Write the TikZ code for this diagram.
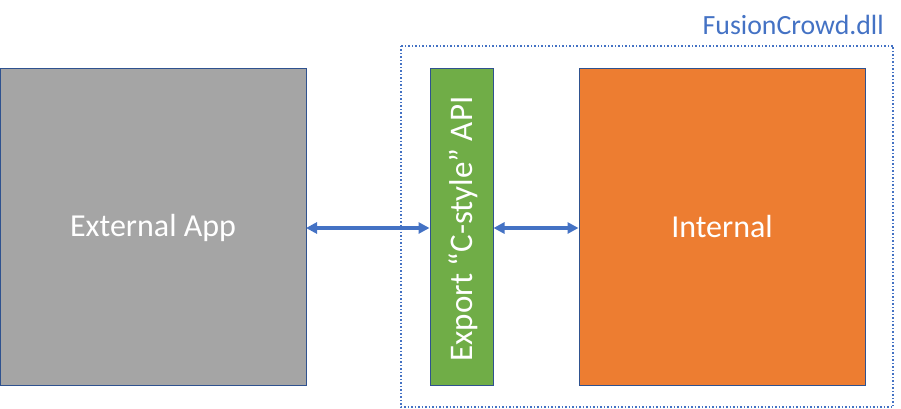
\documentclass[tikz,border=0pt]{standalone}
\usepackage{fontspec}
\setmainfont{Carlito}
\usetikzlibrary{arrows.meta}
\definecolor{bordblue}{HTML}{2F528F}
\definecolor{accblue}{HTML}{4472C4}
\definecolor{gr}{HTML}{A5A5A5}
\definecolor{gn}{HTML}{70AD47}
\definecolor{og}{HTML}{ED7D31}
\begin{document}
\begin{tikzpicture}[x=1pt,y=-1pt,
  blockbox/.style={draw=bordblue,line width=1pt,inner sep=0pt,text=white},
  conn/.style={accblue,line width=3.2pt,{Triangle[length=11pt,width=11pt]}-{Triangle[length=11pt,width=11pt]},shorten <=0pt,shorten >=0pt}]
\useasboundingbox (0,0) rectangle (901,409);
\draw[accblue,line width=1.5pt,dotted] (401,46) rectangle (893,407);
\node[text=accblue,anchor=east,inner sep=0pt,font=\fontsize{27.8}{32}\selectfont] (dll) at (884,25) {FusionCrowd.dll};
\fill[gr] (0,69) rectangle (306,385);
\draw[bordblue,line width=1pt] (0.5,69) rectangle (306,385);
\node[inner sep=0pt,text=white,font=\fontsize{32}{38}\selectfont] (ext) at (153,228) {External App};
\coordinate (extE) at (306,228);
\node[blockbox,fill=gn,minimum width=63pt,minimum height=316pt] (api) at (461.5,227) {};
\node[text=white,rotate=90,inner sep=0pt,font=\fontsize{33}{38}\selectfont] (apit) at (463,229) {Export “C-style” API};
\node[blockbox,fill=og,minimum width=286pt,minimum height=316pt] (int) at (722,227) {};
\node[text=white,inner sep=0pt,font=\fontsize{32}{38}\selectfont] (intt) at (722,227) {Internal};
\draw[conn] (extE) -- (api.west |- extE);
\draw[conn] (api.east |- extE) -- (int.west |- extE);
\end{tikzpicture}
\end{document}
